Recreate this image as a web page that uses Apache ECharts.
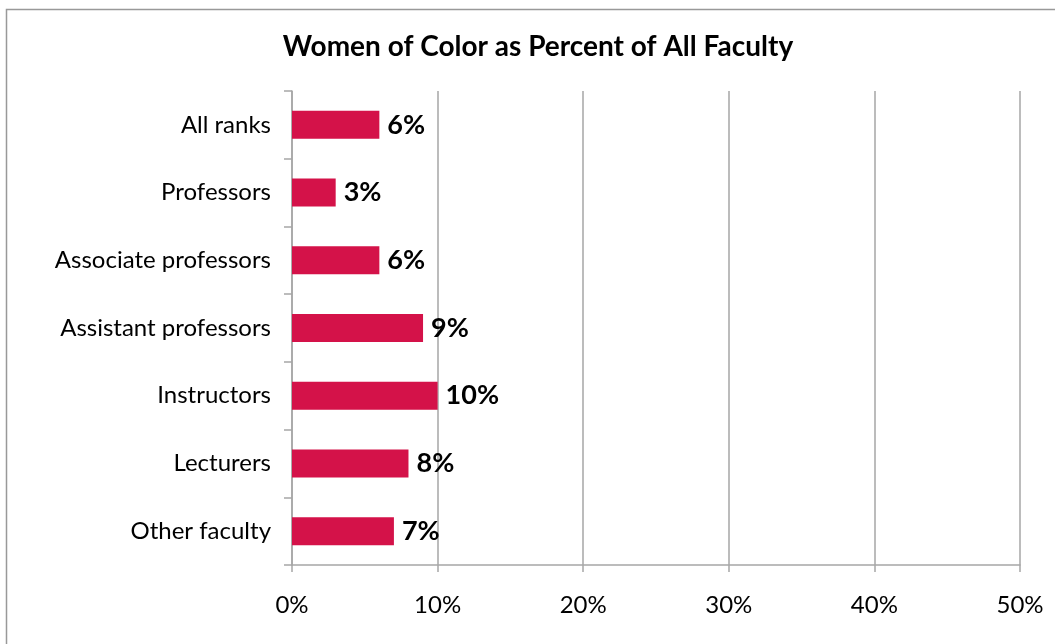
<!DOCTYPE html>
<html>
<head>
<meta charset="utf-8">
<script src="https://cdn.jsdelivr.net/npm/echarts@6/dist/echarts.min.js"></script>
<style>
html,body{margin:0;padding:0;background:#fff;}
#chart{width:1055px;height:644px;}
</style>
</head>
<body>
<div id="chart"></div>
<script>
const title = 'Women of Color as Percent of All Faculty';
const categories = ['All ranks','Professors','Associate professors','Assistant professors','Instructors','Lecturers','Other faculty'];
const values = [6, 3, 6, 9, 10, 8, 7];
const xTicks = [0, 10, 20, 30, 40, 50];

const FONT = 'Lato';
const chart = echarts.init(document.getElementById('chart'), null, {renderer:'canvas'});
chart.setOption({
  animation: false,
  backgroundColor: '#fff',
  title: {
    text: title,
    left: 533, top: 28, textAlign: 'center',
    textStyle: {fontFamily: FONT, fontSize: 28, fontWeight: 'bold', color: '#000'}
  },
  graphic: [{
    type: 'rect', shape: {x: 6.5, y: 9.5, width: 1100, height: 700},
    style: {fill: 'none', stroke: '#999', lineWidth: 1.5}, silent: true
  }],
  grid: {left: 292, right: 35, top: 91, bottom: 79, containLabel: false},
  xAxis: {
    type: 'value', min: xTicks[0], max: xTicks[xTicks.length-1], interval: 10,
    axisLine: {show: true, lineStyle: {color: '#A6A6A6', width: 1.5}},
    axisTick: {show: true, length: 7, lineStyle: {color: '#A6A6A6', width: 1.5}},
    splitLine: {show: true, lineStyle: {color: '#A6A6A6', width: 1.5}},
    axisLabel: {formatter: '{value}%', margin: 28, fontFamily: FONT, fontSize: 24, color: '#000'}
  },
  yAxis: {
    type: 'category', data: categories, inverse: true,
    axisLine: {show: true, lineStyle: {color: '#A6A6A6', width: 1.5}},
    axisTick: {show: true, length: 8, lineStyle: {color: '#A6A6A6', width: 1.5}},
    splitLine: {show: false},
    axisLabel: {margin: 21, fontFamily: FONT, fontSize: 24, color: '#000'}
  },
  series: [{
    type: 'bar', data: values, barWidth: 28,
    itemStyle: {color: '#D41249'},
    label: {show: true, position: 'right', distance: 8, formatter: '{c}%',
      fontFamily: FONT, fontSize: 27, fontWeight: 'bold', color: '#000'}
  }]
});
</script>
</body>
</html>
